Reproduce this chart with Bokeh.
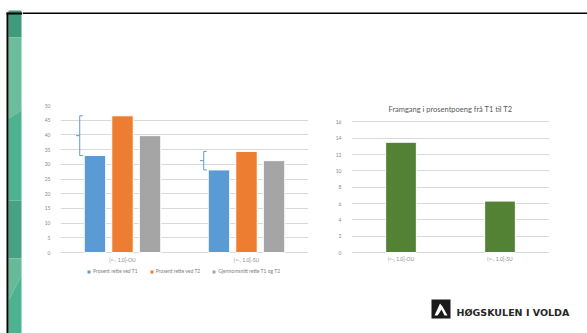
from bokeh.plotting import figure
from bokeh.layouts import row, column
from bokeh.models import (FactorRange, Range1d, Legend, LegendItem,
                          ColumnDataSource, FixedTicker, Label)
from bokeh.transform import dodge
from bokeh.embed import file_html
from bokeh.resources import INLINE
from bokeh.core.properties import value

# ---- data -------------------------------------------------------------
categories = ["(<-, 1.0]-OU", "(<-, 1.0]-SU"]
t1_pct = [33.0, 28.1]
t2_pct = [46.5, 34.4]
mean_pct = [39.75, 31.25]
gain_pp = [13.5, 6.3]

series_names = ["Prosent rette ved T1", "Prosent rette ved T2",
                "Gjennomsnitt rette T1 og T2"]
series_colors = ["#5B9BD5", "#ED7D31", "#A5A5A5"]
gain_color = "#548235"

left_ticks = list(range(0, 55, 5))
right_ticks = list(range(0, 18, 2))

chart_title = "Framgang i prosentpoeng frå T1 til T2"
brand = "HØGSKULEN I VOLDA"

FONT = "Lato"
TICK_COLOR = "#8a8a8a"
GRID_COLOR = "#d9d9d9"


def plain(width, height, xr, yr):
    """Figure without axes, used for the slide decoration."""
    p = figure(width=width, height=height, x_range=xr, y_range=yr,
               output_backend="svg", toolbar_location=None,
               x_axis_location=None, y_axis_location=None)
    p.min_border_left = p.min_border_right = 0
    p.min_border_top = p.min_border_bottom = 0
    p.outline_line_color = None
    p.grid.visible = False
    p.background_fill_color = "white"
    p.border_fill_color = "white"
    return p


def style_chart(p, ticks, left, right):
    """Value axis on the left, category names written under the bars."""
    p.min_border_left = left
    p.min_border_right = right
    p.min_border_top = 91
    p.min_border_bottom = 0
    p.outline_line_color = None
    p.background_fill_color = "white"
    p.border_fill_color = "white"
    p.xaxis.visible = False
    p.xgrid.visible = False
    p.ygrid.grid_line_color = GRID_COLOR
    p.ygrid.grid_line_width = 1
    p.yaxis.ticker = FixedTicker(ticks=ticks)
    p.yaxis.axis_line_color = None
    p.yaxis.major_tick_line_color = None
    p.yaxis.minor_tick_line_color = None
    p.yaxis.major_label_text_font = FONT
    p.yaxis.major_label_text_font_size = "5px"
    p.yaxis.major_label_text_color = TICK_COLOR
    p.yaxis.major_label_standoff = 4


def category_labels(p, y):
    p.text(x=categories, y=[y] * len(categories), text=categories,
           text_font=value(FONT), text_font_size="5px",
           text_color=TICK_COLOR, text_align="center",
           text_baseline="middle")


# ---- left decoration: frame line and green strip ----------------------
deco_left = plain(22, 333, Range1d(0, 22), Range1d(333, 0))
deco_left.patches(
    xs=[[8, 21, 21, 8], [8, 21, 21, 8], [8, 21, 21, 8],
        [8, 21, 21, 8], [8, 21, 21, 8], [8, 21, 21, 8]],
    ys=[[10, 10, 37, 37], [37, 37, 110, 118], [118, 110, 200, 200],
        [200, 200, 258, 258], [258, 258, 275, 300], [300, 275, 333, 333]],
    fill_color=["#3e9b7c", "#6bbd9b", "#4db28f", "#45a283", "#66ba97", "#4db28f"],
    line_color=None)
deco_left.quad(left=[6, 6], right=[8, 22], top=[12, 12], bottom=[333, 14],
               fill_color="black", line_color=None)

# ---- top decoration: frame line ---------------------------------------
deco_top = plain(565, 14, Range1d(22, 587), Range1d(14, 0))
deco_top.quad(left=[22], right=[587], top=[12], bottom=[14],
              fill_color="black", line_color=None)

# ---- left chart: percent correct at T1 / T2 and their mean ------------
# the value range runs below zero to leave room for names and legend
src = ColumnDataSource(dict(cat=categories, t1=t1_pct, t2=t2_pct, mean=mean_pct))

p1 = figure(width=298, height=271, x_range=FactorRange(*categories),
            y_range=Range1d(-11.2, 50), output_backend="svg",
            toolbar_location=None)
style_chart(p1, left_ticks, 38, 12)

offsets = [-0.222, 0.0, 0.222]
fields = ["t1", "t2", "mean"]
items = []
for off, fld, col, name in zip(offsets, fields, series_colors, series_names):
    r = p1.vbar(x=dodge("cat", off, range=p1.x_range), top=fld, bottom=0,
                width=0.173, source=src, fill_color=col,
                line_color="white", line_width=1)
    items.append(LegendItem(label=name, renderers=[r]))

# brace from the T1 value up to the T2 value, pointing at the mean
bx = -0.345
p1.segment(x0=dodge("cat", bx, range=p1.x_range), y0="t1",
           x1=dodge("cat", bx, range=p1.x_range), y1="t2",
           source=src, line_color=series_colors[0], line_width=1)
for fld in ("t1", "t2"):
    p1.segment(x0=dodge("cat", bx, range=p1.x_range), y0=fld,
               x1=dodge("cat", bx + 0.025, range=p1.x_range), y1=fld,
               source=src, line_color=series_colors[0], line_width=1)
p1.segment(x0=dodge("cat", bx, range=p1.x_range), y0="mean",
           x1=dodge("cat", bx - 0.03, range=p1.x_range), y1="mean",
           source=src, line_color=series_colors[0], line_width=1)

category_labels(p1, -2.5)

legend = Legend(items=items, orientation="horizontal", location=(26, 11),
                label_text_font=FONT, label_text_font_size="5px",
                label_text_color="#7f7f7f", glyph_width=5, glyph_height=5,
                label_standoff=2, spacing=11, padding=0, margin=0,
                border_line_color=None, background_fill_alpha=0,
                label_height=5)
p1.add_layout(legend)

# ---- right chart: gain in percentage points ---------------------------
src2 = ColumnDataSource(dict(cat=categories, gain=gain_pp))
p2 = figure(width=267, height=271, x_range=FactorRange(*categories),
            y_range=Range1d(-4.04, 18), output_backend="svg",
            toolbar_location=None)
style_chart(p2, right_ticks, 31, 38)
p2.vbar(x="cat", top="gain", bottom=0, width=0.31, source=src2,
        fill_color=gain_color, line_color="white", line_width=1)
category_labels(p2, -0.8)
p2.add_layout(Label(x=1.0, y=17.5, text=chart_title, text_align="center",
                    text_baseline="middle", text_font=FONT,
                    text_font_size="7.5px", text_color="#595959"))

# ---- bottom decoration: college logo ----------------------------------
deco_bot = plain(565, 48, Range1d(22, 587), Range1d(333, 285))
deco_bot.quad(left=[431], right=[450], top=[299], bottom=[318],
              fill_color="#1a1a1a", line_color=None)
deco_bot.patch(x=[434, 439.5, 442, 447, 444, 441, 438.5, 437],
               y=[315, 303, 306, 315, 315, 309, 313, 315],
               fill_color="white", line_color=None)
deco_bot.text(x=[456], y=[311.5], text=[brand], text_font=value("DejaVu Sans"),
              text_font_style="bold", text_font_size="9.5px",
              text_color="#262626", text_baseline="middle", text_align="left")

layout = row(deco_left, column(deco_top, row(p1, p2), deco_bot))

with open("out.html", "w") as f:
    f.write(file_html(layout, INLINE))
